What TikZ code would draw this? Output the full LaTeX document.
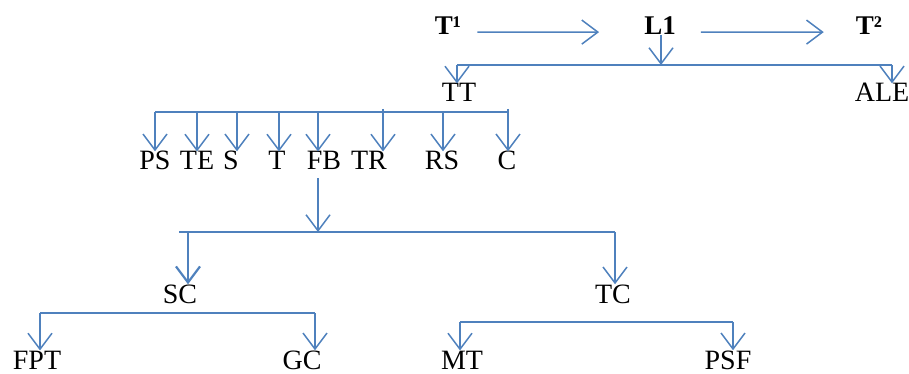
\documentclass[tikz,border=0pt]{standalone}
\usepackage{fontspec}
\setmainfont{Liberation Serif}
\usepackage{xcolor}
\usepackage{tikz}
\usetikzlibrary{arrows.meta, calc}

\definecolor{linkblue}{RGB}{79,129,189}
\tikzset{
  lbl/.style={anchor=base, inner sep=0pt, font=\fontsize{28}{30}\selectfont},
  headlbl/.style={lbl, font=\fontsize{27}{30}\selectfont\bfseries},
  link/.style={draw=linkblue, line width=1.5pt},
  arr/.style={link, -{Straight Barb[length=16pt, width=24pt]}}
}

\begin{document}
\begin{tikzpicture}[x=1pt, y=-1pt]
  \useasboundingbox (0,0) rectangle (909,374);

  \node[headlbl] (T1) at (448,35) {T¹};
  \node[headlbl] (L1) at (660,35) {L1};
  \node[headlbl] (T2) at (869,35) {T²};

  \node[lbl] (TT) at (459,102) {TT};
  \node[lbl] (ALE) at (882,102) {ALE};

  \node[lbl] (PS) at (155,170) {PS};
  \node[lbl] (TE) at (197,170) {TE};
  \node[lbl] (S) at (231,170) {S};
  \node[lbl] (T) at (277,170) {T};
  \node[lbl] (FB) at (324,170) {FB};
  \node[lbl] (TR) at (369,170) {TR};
  \node[lbl] (RS) at (442,170) {RS};
  \node[lbl] (C) at (507,170) {C};

  \node[lbl] (SC) at (180,303) {SC};
  \node[lbl] (TC) at (613,303) {TC};

  \node[lbl] (FPT) at (37,369) {FPT};
  \node[lbl] (GC) at (302,369) {GC};
  \node[lbl] (MT) at (462,369) {MT};
  \node[lbl] (PSF) at (728,369) {PSF};

  \coordinate (b1l) at (457,65);
  \coordinate (b1m) at (661,65);
  \coordinate (b1r) at (892,65);
  \coordinate (b2l) at (155,112);
  \coordinate (b2r) at (508,112);
  \coordinate (b3l) at (179,232);
  \coordinate (b3m) at (318,232);
  \coordinate (b3r) at (615,232);
  \coordinate (dSC) at (188,232);
  \coordinate (b4l) at (40,313);
  \coordinate (b4r) at (315,313);
  \coordinate (b5l) at (460,322);
  \coordinate (b5r) at (733,322);

  \draw[arr] ([xshift=16pt, yshift=-6pt]T1.east) -- ([xshift=-45pt, yshift=-6pt]L1.west);
  \draw[arr] ([xshift=25pt, yshift=-6pt]L1.east) -- ([xshift=-32pt, yshift=-6pt]T2.west);
  \draw[arr] (b1m |- L1.south) -- (b1m);
  \draw[link] (b1l) -- (b1r);
  \draw[arr] (b1l) -- (b1l |- TT.north);
  \draw[arr] (b1r) -- (b1r |- ALE.north);

  \draw[link] (b2l) -- (b2r);
  \foreach \n/\x/\y in {PS/155/112, TE/197/112, S/237/112, T/279/112, FB/318/112,
                        TR/383/109, RS/443/112, C/508/109}{
    \coordinate (d\n) at (\x,\y);
    \draw[arr] (d\n) -- (d\n |- \n.north);
  }

  \draw[arr] ($(b3m |- FB.south)+(0,8)$) -- (b3m);
  \draw[link] (b3l) -- (b3r);
  \draw[arr, line width=2.2pt] (dSC) -- (dSC |- SC.north);
  \draw[arr] (b3r) -- (b3r |- TC.north);

  \draw[link] (b4l) -- (b4r);
  \draw[arr] (b4l) -- (b4l |- FPT.north);
  \draw[arr] (b4r) -- (b4r |- GC.north);

  \draw[link] (b5l) -- (b5r);
  \draw[arr] (b5l) -- (b5l |- MT.north);
  \draw[arr] (b5r) -- (b5r |- PSF.north);
\end{tikzpicture}
\end{document}
